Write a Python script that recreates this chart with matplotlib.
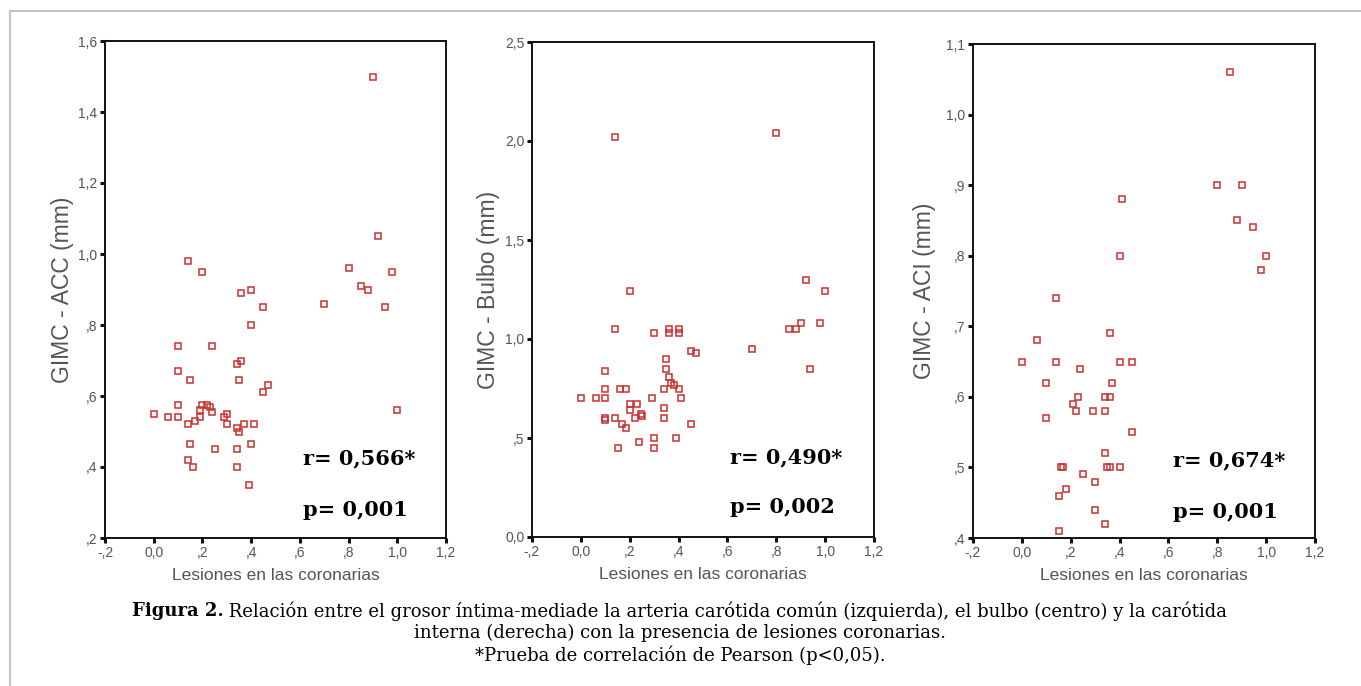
import matplotlib
matplotlib.use("Agg")
import matplotlib.pyplot as plt
from matplotlib.ticker import FuncFormatter, MultipleLocator
from matplotlib.lines import Line2D

# ---------------- data ----------------
x_acc = [0.90, 0.92, 0.14, 0.20, 0.80, 0.98, 0.85, 0.88, 0.36, 0.40, 0.45, 0.70, 0.95,
         0.40, 0.10, 0.24, 0.10, 0.15, 0.34, 0.36, 0.35, 0.45, 0.47, 0.10, 0.00, 0.06,
         0.10, 0.14, 0.17, 0.19, 0.19, 0.20, 0.22, 0.23, 0.24, 0.30, 0.29, 0.30, 0.34,
         0.35, 0.37, 0.41, 1.00, 0.15, 0.25, 0.34, 0.40, 0.14, 0.16, 0.34, 0.39]
y_acc = [1.50, 1.05, 0.98, 0.95, 0.96, 0.95, 0.91, 0.90, 0.89, 0.90, 0.85, 0.86, 0.85,
         0.80, 0.74, 0.74, 0.67, 0.645, 0.69, 0.70, 0.645, 0.61, 0.63, 0.575, 0.55, 0.54,
         0.54, 0.52, 0.53, 0.54, 0.56, 0.575, 0.575, 0.57, 0.555, 0.55, 0.54, 0.52, 0.51,
         0.50, 0.52, 0.52, 0.56, 0.465, 0.45, 0.45, 0.465, 0.42, 0.40, 0.40, 0.35]

x_bulbo = [0.14, 0.80, 0.20, 0.92, 1.00,
           0.14, 0.30, 0.36, 0.36, 0.40, 0.40, 0.45, 0.47, 0.70, 0.85, 0.88, 0.90, 0.98, 0.94,
           0.10, 0.35, 0.35, 0.36, 0.37, 0.38, 0.34, 0.40, 0.41, 0.29, 0.10, 0.10, 0.00, 0.06,
           0.16, 0.185,
           0.20, 0.20, 0.23, 0.245, 0.25, 0.22, 0.10, 0.10, 0.14, 0.17, 0.185, 0.34, 0.34,
           0.45, 0.30, 0.39, 0.15, 0.24, 0.30]
y_bulbo = [2.02, 2.04, 1.24, 1.30, 1.24,
           1.05, 1.03, 1.05, 1.03, 1.05, 1.03, 0.94, 0.93, 0.95, 1.05, 1.05, 1.08, 1.08, 0.85,
           0.84, 0.90, 0.85, 0.81, 0.78, 0.77, 0.75, 0.75, 0.70, 0.70, 0.75, 0.70, 0.70, 0.70,
           0.75, 0.75,
           0.67, 0.64, 0.67, 0.62, 0.61, 0.60, 0.60, 0.59, 0.60, 0.57, 0.55, 0.65, 0.60,
           0.57, 0.50, 0.50, 0.45, 0.48, 0.45]

x_aci = [0.85, 0.80, 0.90, 0.41, 0.88, 0.945, 0.40, 1.00, 0.98, 0.14,
         0.36, 0.06, 0.00, 0.14, 0.24, 0.40, 0.45, 0.10, 0.37, 0.23, 0.34, 0.36, 0.21, 0.22,
         0.29, 0.34, 0.10, 0.45, 0.34, 0.16, 0.17, 0.35, 0.36, 0.40, 0.25, 0.30, 0.18, 0.15,
         0.30, 0.34, 0.15]
y_aci = [1.06, 0.90, 0.90, 0.88, 0.85, 0.84, 0.80, 0.80, 0.78, 0.74,
         0.69, 0.68, 0.65, 0.65, 0.64, 0.65, 0.65, 0.62, 0.62, 0.60, 0.60, 0.60, 0.59, 0.58,
         0.58, 0.58, 0.57, 0.55, 0.52, 0.50, 0.50, 0.50, 0.50, 0.50, 0.49, 0.48, 0.47, 0.46,
         0.44, 0.42, 0.41]

y_labels = ["GIMC - ACC (mm)", "GIMC - Bulbo (mm)", "GIMC - ACI (mm)"]
x_label = "Lesiones en las coronarias"
r_texts = ["r= 0,566*", "r= 0,490*", "r= 0,674*"]
p_texts = ["p= 0,001", "p= 0,002", "p= 0,001"]
y_limits = [(0.2, 1.6), (0.0, 2.5), (0.4, 1.1)]
y_steps = [0.2, 0.5, 0.1]
x_limits = (-0.2, 1.2)

caption_bold = "Figura 2."
caption_line1 = " Relación entre el grosor íntima-mediade la arteria carótida común (izquierda), el bulbo (centro) y la carótida"
caption_line2 = "interna (derecha) con la presencia de lesiones coronarias."
caption_line3 = "*Prueba de correlación de Pearson (p<0,05)."

# ---------------- style ----------------
W, H = 1361, 686
fig = plt.figure(figsize=(W / 100, H / 100), dpi=100)
fig.patch.set_facecolor("white")

sans = ["Liberation Sans", "DejaVu Sans"]
serif = ["DejaVu Serif"]
gray = "#555555"
red = "#c93030"


def spss_fmt(v, pos=None):
    s = f"{v:.1f}".replace(".", ",")
    if abs(v) < 1 and abs(v) > 1e-9:
        s = s.replace("0,", ",", 1)
    if abs(v) < 1e-9:
        s = "0,0"
    return s


# axes boxes in pixels: left, top, right, bottom
boxes = [(105, 41, 446, 538), (532, 42, 874, 537), (973, 44, 1315, 538)]
ylabel_x = [62, 488, 925]
data = [(x_acc, y_acc), (x_bulbo, y_bulbo), (x_aci, y_aci)]
rp_pos = [((303, 458), (303, 510)), ((730, 457), (730, 507)), ((1173, 460), (1173, 512))]

for i, (l, t, r, b) in enumerate(boxes):
    ax = fig.add_axes([l / W, (H - b) / H, (r - l) / W, (b - t) / H])
    xs, ys = data[i]
    ax.plot(xs, ys, linestyle="none", marker="s", markersize=5.0,
            markerfacecolor="none", markeredgecolor=red, markeredgewidth=1.1)
    ax.set_xlim(*x_limits)
    ax.set_ylim(*y_limits[i])
    ax.xaxis.set_major_locator(MultipleLocator(0.2))
    ax.yaxis.set_major_locator(MultipleLocator(y_steps[i]))
    ax.xaxis.set_major_formatter(FuncFormatter(spss_fmt))
    ax.yaxis.set_major_formatter(FuncFormatter(spss_fmt))
    for sp in ax.spines.values():
        sp.set_linewidth(1.4)
        sp.set_color("#111111")
    ax.tick_params(axis="both", direction="out", length=3.5, width=2.2,
                   color="#111111", labelcolor=gray, labelsize=10, pad=2)
    for lab in ax.get_xticklabels() + ax.get_yticklabels():
        lab.set_family(sans)
    ax.set_xlabel(x_label, family=sans, fontsize=12.5, color=gray, labelpad=6)
    fig.text(ylabel_x[i] / W, 1 - ((t + b) / 2) / H, y_labels[i], family=sans,
             fontsize=16.5, color=gray, rotation=90, ha="center", va="center")
    (rx, ry), (px, py) = rp_pos[i]
    fig.text(rx / W, 1 - ry / H, r_texts[i], family=serif, weight="bold",
             fontsize=15, color="black", ha="left", va="center")
    fig.text(px / W, 1 - py / H, p_texts[i], family=serif, weight="bold",
             fontsize=15, color="black", ha="left", va="center")

# border frame (top and left gray lines)
fig.add_artist(Line2D([10 / W, 1.0], [1 - 11 / H, 1 - 11 / H], transform=fig.transFigure,
                      color="#c4c4c4", linewidth=1.5))
fig.add_artist(Line2D([10 / W, 10 / W], [1 - 11 / H, 0.0], transform=fig.transFigure,
                      color="#c4c4c4", linewidth=1.5))

# caption
cap_size = 13
renderer = fig.canvas.get_renderer()
tb = fig.text(0, 1 - 611 / H, caption_bold, family=serif, weight="bold",
              fontsize=cap_size, ha="left", va="center")
tr = fig.text(0, 1 - 611 / H, caption_line1, family=serif, fontsize=cap_size,
              ha="left", va="center")
wb = tb.get_window_extent(renderer).width
wr = tr.get_window_extent(renderer).width
start = (W - (wb + wr)) / 2 - 1
tb.set_x(start / W)
tr.set_x((start + wb) / W)
fig.text(0.5, 1 - 633 / H, caption_line2, family=serif, fontsize=cap_size,
         ha="center", va="center")
fig.text(0.5, 1 - 655 / H, caption_line3, family=serif, fontsize=cap_size,
         ha="center", va="center")

fig.savefig("out.png", dpi=100, facecolor="white")
